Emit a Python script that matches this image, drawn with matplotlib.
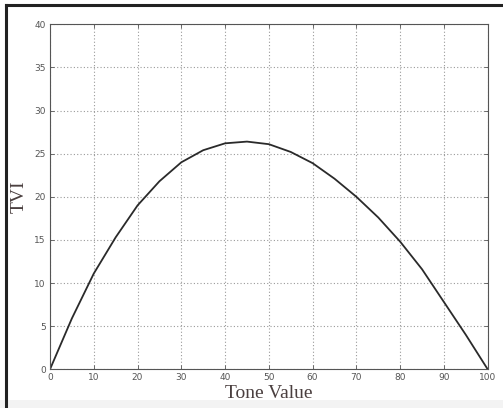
import numpy as np
import matplotlib.pyplot as plt
from matplotlib.lines import Line2D
from matplotlib.patches import Rectangle

# tone value vs TVI (dot gain) curve
tone = [0, 5, 10, 15, 20, 25, 30, 35, 40, 45, 50, 55, 60, 65, 70, 75, 80, 85, 90, 95, 100]
tvi = [0, 5.9, 11.1, 15.3, 19.0, 21.8, 24.0, 25.4, 26.2, 26.4, 26.1, 25.2, 23.9, 22.1,
       20.0, 17.6, 14.8, 11.6, 7.8, 4.0, 0]
xticks = np.arange(0, 101, 10)
yticks = np.arange(0, 41, 5)

W, H = 503, 408
fig = plt.figure(figsize=(W / 100, H / 100), dpi=100)
fig.patch.set_facecolor('white')

# light strip at the bottom and the frame lines
fig.add_artist(Rectangle((0, 0), 1, 8 / H, transform=fig.transFigure,
                         facecolor='#f3f3f3', edgecolor='none'))
fig.add_artist(Line2D([6 / W, 1], [1 - 4.5 / H, 1 - 4.5 / H], transform=fig.transFigure,
                      color='#222222', lw=2.2))
fig.add_artist(Line2D([6 / W, 6 / W], [0, 1 - 4.5 / H], transform=fig.transFigure,
                      color='#222222', lw=2.2))

ax = fig.add_axes([50 / W, 1 - 369.3 / H, 437.7 / W, 345 / H])
ax.plot(tone, tvi, color='#2a2a2a', lw=1.3)

ax.set_xlim(0, 100)
ax.set_ylim(0, 40)
ax.set_xticks(xticks)
ax.set_yticks(yticks)
ax.grid(True, linestyle=(0, (1, 2)), color='#9a9a9a', lw=0.8)
ax.tick_params(direction='in', length=3, width=0.6, color='#555555',
               labelsize=6.5, labelcolor='#555555', top=True, right=True, pad=3)
for s in ax.spines.values():
    s.set_color('#555555')
    s.set_linewidth(0.8)

ax.set_xlabel('Tone Value', family='Liberation Serif', fontsize=14,
              color='#4a3f3f', labelpad=2)
ax.set_ylabel('TVI', family='Liberation Serif', fontsize=14,
              color='#4a3f3f', labelpad=5)

fig.savefig('out.png', dpi=100)
